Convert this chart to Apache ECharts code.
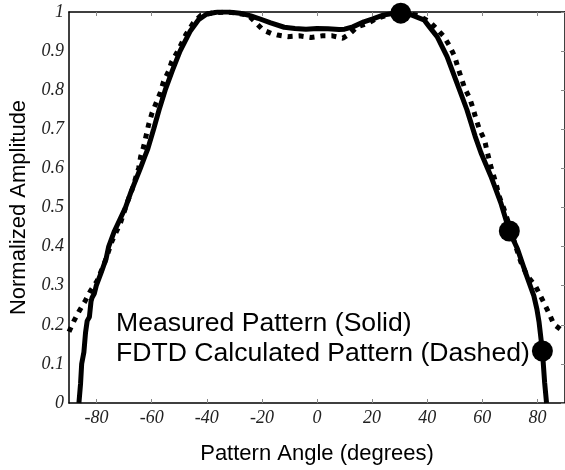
<!DOCTYPE html>
<html>
<head>
<meta charset="utf-8">
<script src="https://cdn.jsdelivr.net/npm/echarts@6/dist/echarts.min.js"></script>
<style>
html,body{margin:0;padding:0;background:#fff;}
#chart{width:565px;height:470px;}
</style>
</head>
<body>
<div id="chart"></div>
<script>
// Measured pattern (solid)
const measuredAngle = [-86.4,-85.8,-85.4,-84.6,-84.0,-83.4,-82.6,-82.0,-81.6,-80.8,-80.1,-78.5,-76.5,-75.6,-73.5,-71.5,-69.5,-67.5,-65.8,-64.1,-62.5,-61.4,-59.3,-57.3,-55.1,-52.5,-49.7,-46.1,-43,-40,-36,-32,-28,-24,-21.4,-16.8,-11.9,-8,-4,0,4,8,10,13,17,20,24,28,30.4,34,38.8,41,43.6,47.2,50.8,54.4,57.4,59.5,61.3,63.1,66.7,69.8,72.8,75.7,78.7,79.8,80.6,81.8,82.6,83.3];
const measuredAmp   = [0,0.05,0.10,0.13,0.18,0.21,0.22,0.26,0.27,0.28,0.30,0.33,0.37,0.40,0.44,0.47,0.50,0.54,0.57,0.60,0.63,0.65,0.70,0.75,0.80,0.85,0.90,0.95,0.98,0.995,1.0,1.0,0.997,0.99,0.984,0.972,0.961,0.958,0.956,0.958,0.957,0.955,0.956,0.962,0.975,0.982,0.992,0.997,0.997,0.993,0.98,0.96,0.937,0.886,0.818,0.75,0.682,0.64,0.61,0.58,0.512,0.44,0.393,0.333,0.274,0.24,0.206,0.133,0.053,0];
// FDTD calculated pattern (dashed)
const fdtdAngle = [-90,-88.2,-86.4,-84.2,-82.2,-79.8,-77,-74.4,-71.3,-68.9,-67.1,-64.7,-64.0,-62.9,-61.1,-59.9,-56.9,-55.7,-53.9,-52.7,-50.3,-47.6,-45,-42,-38.4,-33,-29,-25,-21.4,-19.6,-16.6,-14.3,-10.6,-6.4,-2.2,2,5.6,9.4,12,14.6,18.3,21.9,25.5,29,33,37,40.9,43.3,46.1,48.2,50,51.2,52.4,53.6,55.4,56.6,57.8,59,60.8,61.7,63.1,64.9,66.1,67.9,70,72.1,74,76.3,79.3,82.3,84.1,85.9,88.3];
const fdtdAmp   = [0.182,0.21,0.234,0.26,0.287,0.312,0.36,0.414,0.461,0.512,0.546,0.601,0.63,0.656,0.712,0.741,0.793,0.822,0.848,0.873,0.903,0.942,0.971,0.992,0.997,1.0,0.997,0.992,0.967,0.954,0.945,0.941,0.937,0.939,0.935,0.939,0.939,0.933,0.945,0.962,0.971,0.984,0.992,0.997,0.997,0.99,0.975,0.958,0.937,0.912,0.886,0.856,0.831,0.805,0.78,0.754,0.724,0.699,0.673,0.644,0.605,0.563,0.529,0.495,0.45,0.401,0.36,0.325,0.299,0.257,0.231,0.202,0.189];
// Marked points
const markerAngle = [30.4, 69.8, 81.8];
const markerAmp   = [0.997, 0.44, 0.133];
// Axis ticks
const xTicks = [-80,-60,-40,-20,0,20,40,60,80];
const xName = 'Pattern Angle (degrees)';
const yName = 'Normalized Amplitude';
const noteLines = ['Measured Pattern (Solid)', 'FDTD Calculated Pattern (Dashed)'];

const zip = (a, b) => a.map((v, i) => [v, b[i]]);
const serif = 'Liberation Serif';
const sans = 'Liberation Sans';

const chart = echarts.init(document.getElementById('chart'), null, {renderer: 'canvas'});
chart.setOption({
  animation: false,
  backgroundColor: '#fff',
  grid: {left: 69, top: 12, right: -3, bottom: 66, containLabel: false},
  xAxis: [{
    type: 'value', min: -90, max: 90, position: 'bottom',
    name: xName, nameLocation: 'middle', nameGap: 40,
    nameTextStyle: {fontFamily: sans, fontSize: 22, color: '#000'},
    axisLine: {show: true, onZero: false, lineStyle: {color: '#000', width: 1.5}},
    axisTick: {show: true, inside: true, length: 4, customValues: xTicks, lineStyle: {color: '#888'}},
    axisLabel: {show: true, customValues: xTicks, margin: 6, fontFamily: serif, fontStyle: 'italic', fontSize: 18, color: '#222'},
    splitLine: {show: false}
  }, {
    type: 'value', min: -90, max: 90, position: 'top',
    axisLine: {show: true, onZero: false, lineStyle: {color: '#000', width: 1.5}},
    axisTick: {show: true, inside: true, length: 4, customValues: xTicks, lineStyle: {color: '#888'}},
    axisLabel: {show: false},
    splitLine: {show: false}
  }],
  yAxis: [{
    type: 'value', min: 0, max: 1, interval: 0.1, position: 'left',
    name: yName, nameLocation: 'middle', nameGap: 39,
    nameTextStyle: {fontFamily: sans, fontSize: 22, color: '#000'},
    axisLine: {show: true, onZero: false, lineStyle: {color: '#000', width: 1.5}},
    axisTick: {show: false},
    axisLabel: {margin: 5, fontFamily: serif, fontStyle: 'italic', fontSize: 18, color: '#222',
      formatter: v => String(Math.round(v * 10) / 10)},
    splitLine: {show: false}
  }, {
    type: 'value', min: 0, max: 1, interval: 0.1, position: 'right',
    axisLine: {show: true, onZero: false, lineStyle: {color: '#000', width: 1.5}},
    axisTick: {show: true, inside: true, length: 4, lineStyle: {color: '#888'}},
    axisLabel: {show: false},
    splitLine: {show: false}
  }],
  series: [{
    type: 'line', name: 'FDTD', xAxisIndex: 0, yAxisIndex: 0,
    data: zip(fdtdAngle, fdtdAmp), showSymbol: false, smooth: false,
    lineStyle: {color: '#000', width: 5, type: [5, 6], cap: 'butt'},
    z: 2
  }, {
    type: 'line', name: 'Measured', xAxisIndex: 0, yAxisIndex: 0,
    data: zip(measuredAngle, measuredAmp), showSymbol: false, smooth: false,
    lineStyle: {color: '#000', width: 5, type: 'solid'},
    z: 3
  }, {
    type: 'scatter', xAxisIndex: 0, yAxisIndex: 0,
    data: zip(markerAngle, markerAmp), symbol: 'circle', symbolSize: 21,
    itemStyle: {color: '#000', opacity: 1}, z: 5
  }],
  graphic: [{
    type: 'text', left: 116, top: 310,
    style: {text: noteLines[0], font: '26.6px "Liberation Sans"', fill: '#000'}
  }, {
    type: 'text', left: 116, top: 340,
    style: {text: noteLines[1], font: '26.6px "Liberation Sans"', fill: '#000'}
  }]
});
</script>
</body>
</html>
